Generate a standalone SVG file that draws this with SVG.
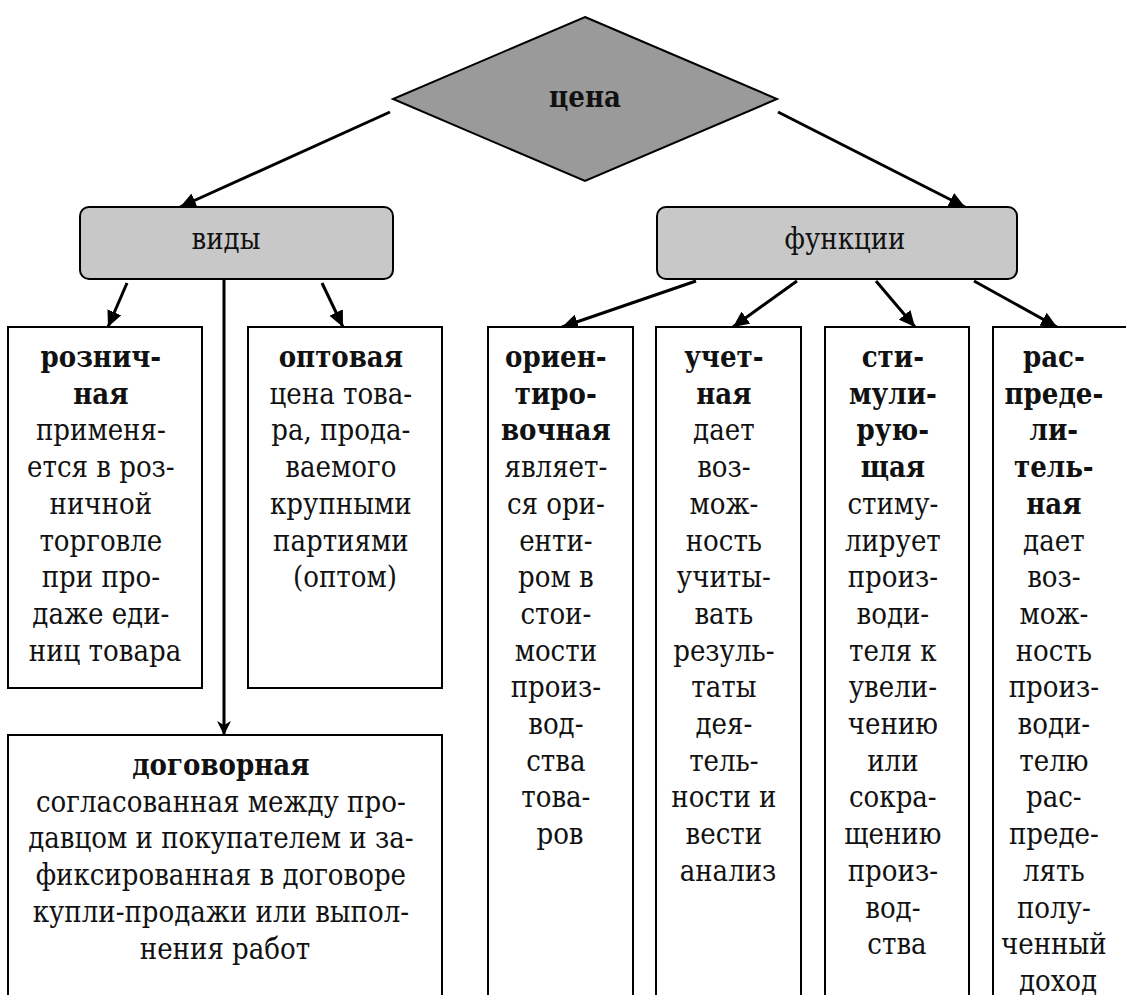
<svg xmlns="http://www.w3.org/2000/svg" width="1126" height="995" viewBox="0 0 1126 995">
<style>
text{font-family:'DejaVu Serif Condensed','DejaVu Serif','Liberation Serif',serif;font-stretch:condensed;font-size:29px;fill:#111;text-anchor:middle}
.b{font-weight:bold}
.box{fill:#fff;stroke:#000;stroke-width:2}
.gbox{fill:#c8c8c8;stroke:#000;stroke-width:2}
.con{stroke:#000;stroke-width:3;fill:none}
</style>
<defs>
<marker id="ah" markerUnits="userSpaceOnUse" markerWidth="17" markerHeight="15" refX="16" refY="7.5" orient="auto">
<path d="M0,0 L16,7.5 L0,15 z" fill="#000"/>
</marker>
<marker id="ahs" markerUnits="userSpaceOnUse" markerWidth="14" markerHeight="14" refX="14" refY="7" orient="auto">
<path d="M0,0 L14,7 L0,14 L4,7 z" fill="#000"/>
</marker>
</defs>
<rect width="1126" height="995" fill="#fff"/>

<g id="connectors">
<line class="con" x1="390" y1="112" x2="180" y2="207" marker-end="url(#ah)"/>
<line class="con" x1="778" y1="112" x2="965" y2="207" marker-end="url(#ah)"/>
<line class="con" x1="127" y1="283" x2="108" y2="327" marker-end="url(#ah)"/>
<line class="con" x1="322" y1="283" x2="343" y2="327" marker-end="url(#ah)"/>
<line class="con" x1="224" y1="279" x2="224" y2="735" marker-end="url(#ahs)"/>
<line class="con" x1="696" y1="281" x2="562" y2="327" marker-end="url(#ah)"/>
<line class="con" x1="797" y1="281" x2="733" y2="327" marker-end="url(#ah)"/>
<line class="con" x1="876" y1="281" x2="915" y2="327" marker-end="url(#ah)"/>
<line class="con" x1="974" y1="281" x2="1057" y2="327" marker-end="url(#ah)"/>
</g>

<g id="cena">
<polygon points="585,17 777,99 585,181 393,99" fill="#9a9a9a" stroke="#000" stroke-width="2"/>
<text class="b" x="585" y="107">цена</text>
</g>

<g id="vidy">
<rect class="gbox" x="80" y="207" width="313" height="72" rx="9"/>
<text x="226" y="249">виды</text>
</g>

<g id="funkcii">
<rect class="gbox" x="657" y="207" width="360" height="72" rx="9"/>
<text x="845" y="249">функции</text>
</g>

<g id="roznichnaya">
<rect class="box" x="8" y="327" width="194" height="361"/>
<text>
<tspan class="b" x="105" y="367">рознич-</tspan>
<tspan class="b" x="105" y="403.7">ная</tspan>
<tspan x="105" y="440.4">применя-</tspan>
<tspan x="105" y="477.1">ется в роз-</tspan>
<tspan x="105" y="513.8">ничной</tspan>
<tspan x="105" y="550.5">торговле</tspan>
<tspan x="105" y="587.2">при про-</tspan>
<tspan x="105" y="623.9">даже еди-</tspan>
<tspan x="105" y="660.6">ниц товара</tspan>
</text>
</g>

<g id="optovaya">
<rect class="box" x="248" y="327" width="194" height="361"/>
<text>
<tspan class="b" x="345" y="367">оптовая</tspan>
<tspan x="345" y="403.7">цена това-</tspan>
<tspan x="345" y="440.4">ра, прода-</tspan>
<tspan x="345" y="477.1">ваемого</tspan>
<tspan x="345" y="513.8">крупными</tspan>
<tspan x="345" y="550.5">партиями</tspan>
<tspan x="345" y="587.2">(оптом)</tspan>
</text>
</g>

<g id="dogovornaya">
<rect class="box" x="8" y="735" width="434" height="280"/>
<text>
<tspan class="b" x="225" y="775">договорная</tspan>
<tspan x="225" y="811.7">согласованная между про-</tspan>
<tspan x="225" y="848.4">давцом и покупателем и за-</tspan>
<tspan x="225" y="885.1">фиксированная в договоре</tspan>
<tspan x="225" y="921.8">купли-продажи или выпол-</tspan>
<tspan x="225" y="958.5">нения работ</tspan>
</text>
</g>

<g id="orientirovochnaya">
<rect class="box" x="488" y="327" width="145" height="690"/>
<text>
<tspan class="b" x="560" y="367">ориен-</tspan>
<tspan class="b" x="560" y="403.7">тиро-</tspan>
<tspan class="b" x="560" y="440.4">вочная</tspan>
<tspan x="560" y="477.1">являет-</tspan>
<tspan x="560" y="513.8">ся ори-</tspan>
<tspan x="560" y="550.5">енти-</tspan>
<tspan x="560" y="587.2">ром в</tspan>
<tspan x="560" y="623.9">стои-</tspan>
<tspan x="560" y="660.6">мости</tspan>
<tspan x="560" y="697.3">произ-</tspan>
<tspan x="560" y="734">вод-</tspan>
<tspan x="560" y="770.7">ства</tspan>
<tspan x="560" y="807.4">това-</tspan>
<tspan x="560" y="844.1">ров</tspan>
</text>
</g>

<g id="uchetnaya">
<rect class="box" x="656" y="327" width="145" height="690"/>
<text>
<tspan class="b" x="728" y="367">учет-</tspan>
<tspan class="b" x="728" y="403.7">ная</tspan>
<tspan x="728" y="440.4">дает</tspan>
<tspan x="728" y="477.1">воз-</tspan>
<tspan x="728" y="513.8">мож-</tspan>
<tspan x="728" y="550.5">ность</tspan>
<tspan x="728" y="587.2">учиты-</tspan>
<tspan x="728" y="623.9">вать</tspan>
<tspan x="728" y="660.6">резуль-</tspan>
<tspan x="728" y="697.3">таты</tspan>
<tspan x="728" y="734">дея-</tspan>
<tspan x="728" y="770.7">тель-</tspan>
<tspan x="728" y="807.4">ности и</tspan>
<tspan x="728" y="844.1">вести</tspan>
<tspan x="728" y="880.8">анализ</tspan>
</text>
</g>

<g id="stimuliruyushchaya">
<rect class="box" x="825" y="327" width="144" height="690"/>
<text>
<tspan class="b" x="897" y="367">сти-</tspan>
<tspan class="b" x="897" y="403.7">мули-</tspan>
<tspan class="b" x="897" y="440.4">рую-</tspan>
<tspan class="b" x="897" y="477.1">щая</tspan>
<tspan x="897" y="513.8">стиму-</tspan>
<tspan x="897" y="550.5">лирует</tspan>
<tspan x="897" y="587.2">произ-</tspan>
<tspan x="897" y="623.9">води-</tspan>
<tspan x="897" y="660.6">теля к</tspan>
<tspan x="897" y="697.3">увели-</tspan>
<tspan x="897" y="734">чению</tspan>
<tspan x="897" y="770.7">или</tspan>
<tspan x="897" y="807.4">сокра-</tspan>
<tspan x="897" y="844.1">щению</tspan>
<tspan x="897" y="880.8">произ-</tspan>
<tspan x="897" y="917.5">вод-</tspan>
<tspan x="897" y="954.2">ства</tspan>
</text>
</g>

<g id="raspredelitelnaya">
<rect class="box" x="993" y="327" width="145" height="690"/>
<text>
<tspan class="b" x="1058" y="367">рас-</tspan>
<tspan class="b" x="1058" y="403.7">преде-</tspan>
<tspan class="b" x="1058" y="440.4">ли-</tspan>
<tspan class="b" x="1058" y="477.1">тель-</tspan>
<tspan class="b" x="1058" y="513.8">ная</tspan>
<tspan x="1058" y="550.5">дает</tspan>
<tspan x="1058" y="587.2">воз-</tspan>
<tspan x="1058" y="623.9">мож-</tspan>
<tspan x="1058" y="660.6">ность</tspan>
<tspan x="1058" y="697.3">произ-</tspan>
<tspan x="1058" y="734">води-</tspan>
<tspan x="1058" y="770.7">телю</tspan>
<tspan x="1058" y="807.4">рас-</tspan>
<tspan x="1058" y="844.1">преде-</tspan>
<tspan x="1058" y="880.8">лять</tspan>
<tspan x="1058" y="917.5">полу-</tspan>
<tspan x="1058" y="954.2">ченный</tspan>
<tspan x="1058" y="990.9">доход</tspan>
</text>
</g>
</svg>
